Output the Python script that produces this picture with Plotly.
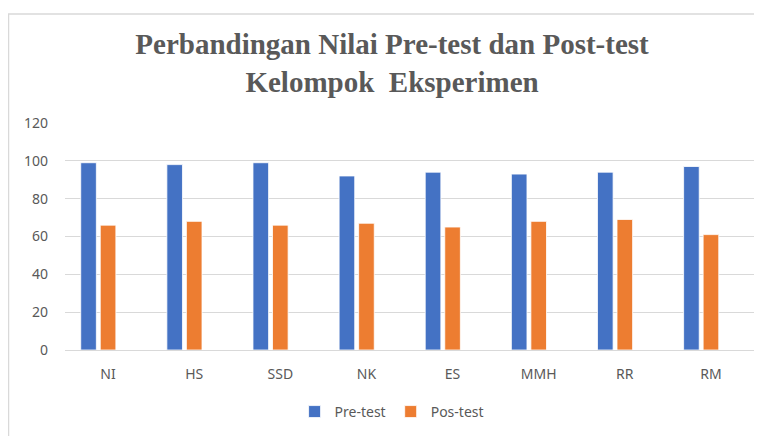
import plotly.graph_objects as go

categories = ["NI", "HS", "SSD", "NK", "ES", "MMH", "RR", "RM"]
pre_test = [99, 98, 99, 92, 94, 93, 94, 97]
pos_test = [66, 68, 66, 67, 65, 68, 69, 61]
empty_series = [0, 0, 0, 0, 0, 0, 0, 0]  # hidden third series slot in the source chart
y_ticks = [0, 20, 40, 60, 80, 100, 120]

# figure is drawn with an ~8px page offset; layout numbers account for it
L, R, T, B = 57, 16, 115, 94
PW = 762 - L - R
PH = 436 - T - B

fig = go.Figure()
fig.add_trace(go.Bar(name="Pre-test", x=categories, y=pre_test,
                     marker=dict(color="#4472C4", line=dict(color="#FFFFFF", width=0.8))))
fig.add_trace(go.Bar(name="Pos-test", x=categories, y=pos_test,
                     marker=dict(color="#ED7D31", line=dict(color="#FFFFFF", width=0.8))))
fig.add_trace(go.Bar(name="", x=categories, y=empty_series, showlegend=False,
                     hoverinfo="skip",
                     marker=dict(color="rgba(0,0,0,0)", line=dict(width=0))))

fig.update_layout(
    width=762, height=436,
    margin=dict(l=L, r=R, t=T, b=B),
    paper_bgcolor="white", plot_bgcolor="white",
    barmode="group", bargap=0.32, bargroupgap=0.2,
    title=dict(text="<b>Perbandingan Nilai Pre-test dan Post-test<br>Kelompok  Eksperimen</b>",
               x=0.504, xanchor="center", y=0.894, yanchor="middle",
               font=dict(family="Liberation Serif", size=29, color="#595959")),
    legend=dict(orientation="h", x=0.474, xanchor="center", y=-0.273, yanchor="middle",
                font=dict(family="Noto Sans", size=14, color="#595959"),
                itemwidth=30, traceorder="normal"),
    showlegend=True,
)
fig.update_yaxes(range=[0, 120], tickvals=y_ticks, showgrid=True, gridcolor="#D9D9D9",
                 gridwidth=1, zeroline=False, showline=False,
                 tickfont=dict(family="Noto Sans", size=14, color="#595959"),
                 ticklabelstandoff=16)
fig.update_xaxes(showline=True, linecolor="#D9D9D9", linewidth=1, showgrid=False,
                 tickfont=dict(family="Noto Sans", size=14, color="#595959"),
                 ticklabelstandoff=11)
fig.add_shape(type="rect", xref="paper", yref="paper",
              x0=(0.5 - L) / PW, x1=1.1, y0=-0.6, y1=(PH + T - 6) / PH,
              line=dict(color="#D9D9D9", width=1.5), fillcolor="rgba(0,0,0,0)", layer="below")

fig.write_html("out.html")
